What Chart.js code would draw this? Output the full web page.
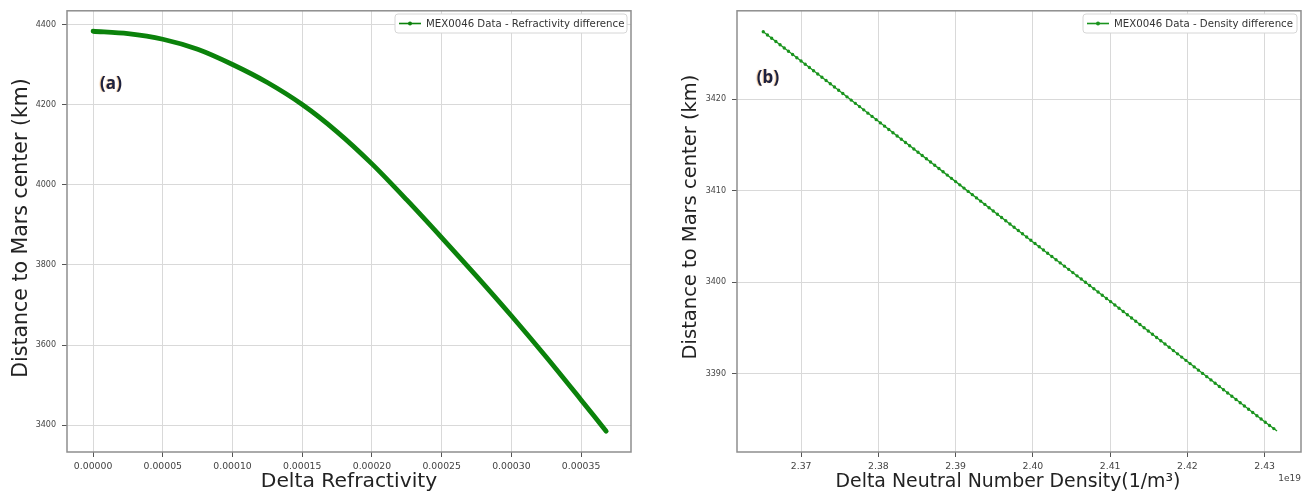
<!DOCTYPE html>
<html>
<head>
<meta charset="utf-8">
<script src="https://cdn.jsdelivr.net/npm/chart.js@4.4.0/dist/chart.umd.min.js"></script>
<style>
  html, body { margin: 0; padding: 0; background: #fff; }
  #wrap { position: relative; width: 1314px; height: 492px; overflow: hidden; }
  #panelA { position: absolute; left: 0; top: 0; }
  #panelB { position: absolute; left: 655px; top: 0; }
</style>
</head>
<body>
<div id="wrap">
  <canvas id="panelA" width="655" height="492"></canvas>
  <canvas id="panelB" width="659" height="492"></canvas>
</div>
<script>
// (a) refractivity difference vs altitude
const refrDelta = [0, 0.000025, 0.00005, 0.000075, 0.0001, 0.000125, 0.00015, 0.000175, 0.0002, 0.000225, 0.00025, 0.000275, 0.0003, 0.000325, 0.00035, 0.000368];
const refrAlt = [4383, 4377, 4363, 4338, 4300, 4255, 4200, 4132, 4052, 3962, 3868, 3772, 3673, 3570, 3463, 3385];
const refrXTicks = [0, 0.00005, 0.0001, 0.00015, 0.0002, 0.00025, 0.0003, 0.00035];
const refrYTicks = [3400, 3600, 3800, 4000, 4200, 4400];

// (b) neutral number density difference (x in units of 1e19) vs altitude
const densDelta = [2.3651, 2.37, 2.38, 2.39, 2.40, 2.41, 2.42, 2.43, 2.4316];
const densAlt = [3427.4, 3424.2, 3417.6, 3411.0, 3404.4, 3397.9, 3391.3, 3384.7, 3383.7];
const densXTicks = [2.37, 2.38, 2.39, 2.40, 2.41, 2.42, 2.43];
const densYTicks = [3390, 3400, 3410, 3420];

const verde = '#0b820b';
const verdeB = '#1a941e';
const fuente = 'DejaVu Sans';

function decoracion(cfg) {
    return {
        id: 'decoracion',
        afterDraw(chart) {
            const ctx = chart.ctx;
            const a = chart.chartArea;
            ctx.save();
            // frame
            ctx.strokeStyle = '#8e8e8e';
            ctx.lineWidth = 1.5;
            ctx.strokeRect(a.left, a.top, a.right - a.left, a.bottom - a.top);

            // legend box
            const lg = cfg.legend;
            ctx.fillStyle = '#ffffff';
            ctx.strokeStyle = '#d6d6d6';
            ctx.lineWidth = 1;
            ctx.beginPath();
            ctx.roundRect(lg.x, lg.y, lg.w, lg.h, 3);
            ctx.fill();
            ctx.stroke();
            const cy = lg.y + lg.h / 2;
            ctx.strokeStyle = cfg.color;
            ctx.lineWidth = 1.6;
            ctx.beginPath();
            ctx.moveTo(lg.x + 4, cy);
            ctx.lineTo(lg.x + 26, cy);
            ctx.stroke();
            ctx.fillStyle = cfg.color;
            ctx.beginPath();
            ctx.arc(lg.x + 15, cy, 2, 0, Math.PI * 2);
            ctx.fill();
            ctx.fillStyle = '#333';
            ctx.font = '10.2px ' + fuente;
            ctx.textAlign = 'left';
            ctx.textBaseline = 'middle';
            ctx.fillText(chart.data.datasets[0].label, lg.x + 31, cy + 0.5);

            // axis titles
            ctx.textBaseline = 'alphabetic';
            ctx.fillStyle = '#222';
            ctx.textAlign = 'center';
            ctx.font = cfg.xTitle.size + 'px ' + fuente;
            ctx.fillText(cfg.xTitle.text, cfg.xTitle.x, cfg.xTitle.y);
            ctx.save();
            ctx.translate(cfg.yTitle.x, cfg.yTitle.y);
            ctx.rotate(-Math.PI / 2);
            ctx.font = cfg.yTitle.size + 'px ' + fuente;
            ctx.fillText(cfg.yTitle.text, 0, 0);
            ctx.restore();

            // offset text
            if (cfg.offsetText) {
                ctx.font = '9px ' + fuente;
                ctx.fillStyle = '#444';
                ctx.textAlign = 'right';
                ctx.fillText(cfg.offsetText.text, cfg.offsetText.x, cfg.offsetText.y);
            }

            // panel label
            ctx.font = 'bold 17px "Open Sans"';
            ctx.textAlign = 'center';
            ctx.shadowColor = 'rgba(230,140,40,0.55)';
            ctx.shadowOffsetX = -1;
            ctx.shadowBlur = 1;
            ctx.fillStyle = '#1c2140';
            ctx.fillText(cfg.panel.text, cfg.panel.x, cfg.panel.y);
            ctx.restore();
        }
    };
}

function escalas(xTicks, yTicks, xFmt, yWidth) {
    const grid = { color: '#d9d9d9', lineWidth: 1, tickLength: 5, tickColor: '#555' };
    return {
        x: {
            type: 'linear',
            grid: grid,
            border: { display: false },
            afterBuildTicks: (s) => { s.ticks = xTicks.map(v => ({ value: v })); },
            afterFit: (s) => { s.height = 40; },
            ticks: {
                autoSkip: false, maxRotation: 0, padding: 4,
                color: '#444', font: { family: fuente, size: 9.3 },
                callback: xFmt
            }
        },
        y: {
            type: 'linear',
            grid: grid,
            border: { display: false },
            afterBuildTicks: (s) => { s.ticks = yTicks.map(v => ({ value: v })); },
            afterFit: (s) => { s.width = yWidth; },
            ticks: {
                autoSkip: false, padding: 6,
                color: '#444', font: { family: fuente, size: 8 },
                callback: (v) => String(v)
            }
        }
    };
}

const escA = escalas(refrXTicks, refrYTicks, (v) => v.toFixed(5), 67);
escA.x.min = -0.0000187; escA.x.max = 0.0003858;
escA.y.min = 3333; escA.y.max = 4434;

new Chart(document.getElementById('panelA'), {
    type: 'line',
    data: {
        datasets: [{
            label: 'MEX0046 Data - Refractivity difference',
            data: refrDelta.map((x, i) => ({ x: x, y: refrAlt[i] })),
            borderColor: verde,
            backgroundColor: verde,
            borderWidth: 4.8,
            borderCapStyle: 'round',
            tension: 0.3,
            pointRadius: 0
        }]
    },
    options: {
        responsive: false,
        animation: false,
        layout: { padding: { top: 8, right: 24, left: 0, bottom: 0 } },
        plugins: { legend: { display: false }, tooltip: { enabled: false } },
        scales: escA
    },
    plugins: [decoracion({
        color: verde,
        legend: { x: 395, y: 14, w: 232, h: 19 },
        xTitle: { text: 'Delta Refractivity', x: 349, y: 487, size: 20.3 },
        yTitle: { text: 'Distance to Mars center (km)', x: 27, y: 228, size: 20.5 },
        panel: { text: '(a)', x: 111, y: 89 }
    })]
});

const escB = escalas(densXTicks, densYTicks, (v) => v.toFixed(2), 82);
escB.x.min = 2.3617; escB.x.max = 2.4347;
escB.y.min = 3381.4; escB.y.max = 3429.7;

const puntosB = densDelta.map((x, i) => ({ x: x, y: densAlt[i] }));

new Chart(document.getElementById('panelB'), {
    type: 'line',
    data: {
        datasets: [{
            label: 'MEX0046 Data - Density difference',
            data: puntosB,
            borderColor: verdeB,
            backgroundColor: verdeB,
            borderWidth: 1.3,
            pointRadius: 0
        }, {
            label: 'markers',
            data: puntosB,
            borderColor: verdeB,
            borderWidth: 3.4,
            borderDash: [0, 5.3],
            borderCapStyle: 'round',
            pointRadius: 0
        }]
    },
    options: {
        responsive: false,
        animation: false,
        layout: { padding: { top: 8, right: 13, left: 0, bottom: 0 } },
        plugins: { legend: { display: false }, tooltip: { enabled: false } },
        scales: escB
    },
    plugins: [decoracion({
        color: verdeB,
        legend: { x: 428, y: 14, w: 214, h: 19 },
        xTitle: { text: 'Delta Neutral Number Density(1/m³)', x: 353, y: 487, size: 18.9 },
        yTitle: { text: 'Distance to Mars center (km)', x: 41, y: 217, size: 19.5 },
        offsetText: { text: '1e19', x: 646, y: 481 },
        panel: { text: '(b)', x: 113, y: 83 }
    })]
});
</script>
</body>
</html>
